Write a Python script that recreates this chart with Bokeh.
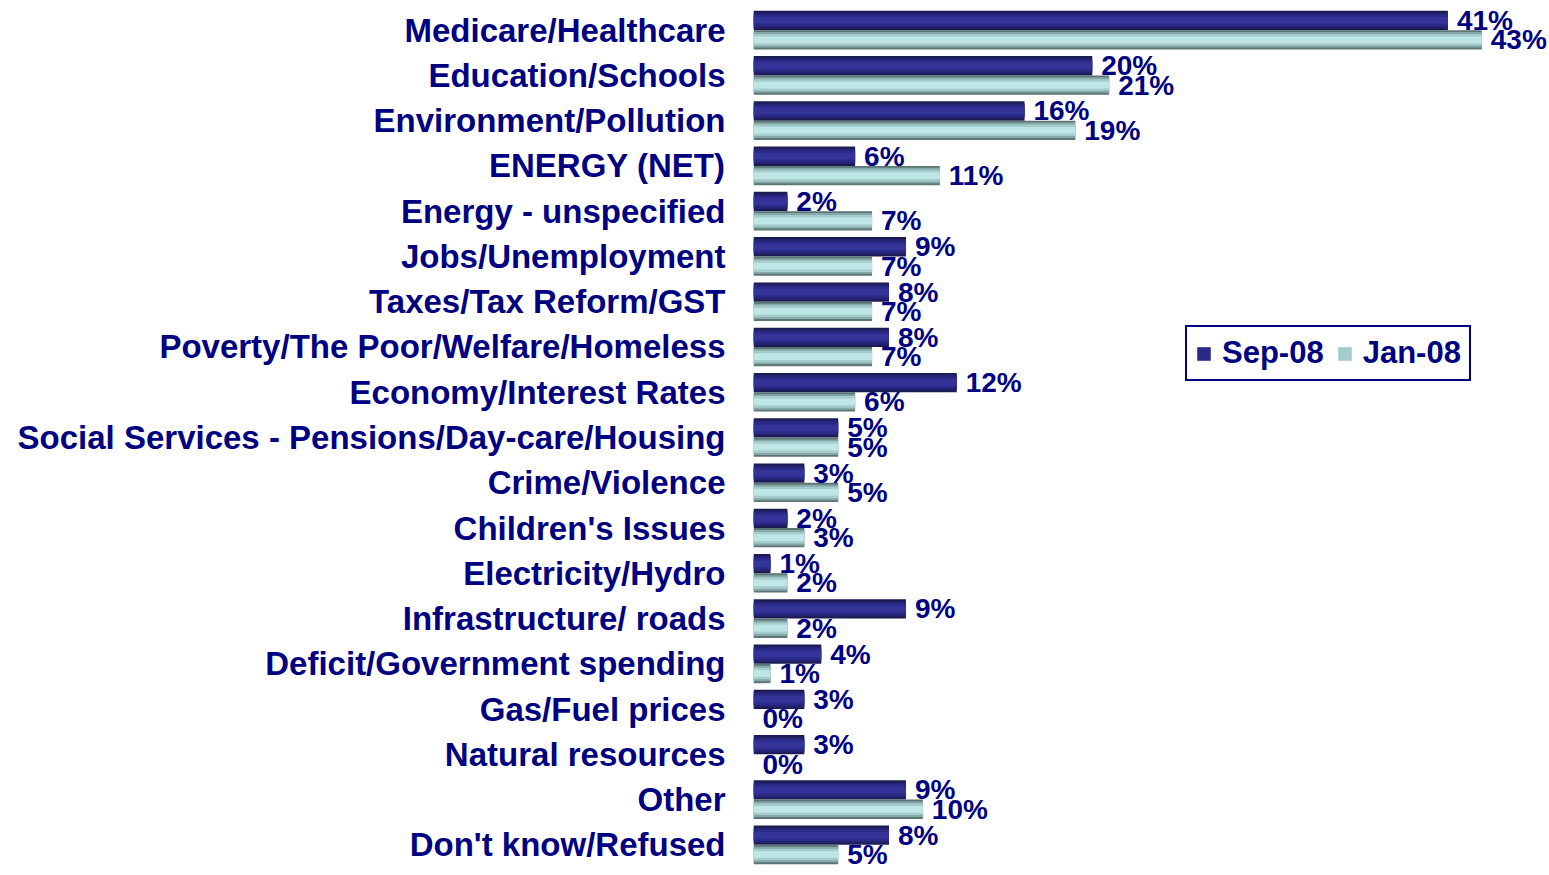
from bokeh.plotting import figure
from bokeh.models import ColumnDataSource, FactorRange, Range1d, LabelSet, Legend, LegendItem
from bokeh.transform import dodge
from bokeh.core.properties import value
from bokeh.embed import file_html
from bokeh.resources import INLINE

categories = ["Medicare/Healthcare", "Education/Schools", "Environment/Pollution", "ENERGY (NET)",
              "Energy - unspecified", "Jobs/Unemployment", "Taxes/Tax Reform/GST",
              "Poverty/The Poor/Welfare/Homeless", "Economy/Interest Rates",
              "Social Services - Pensions/Day-care/Housing", "Crime/Violence", "Children's Issues",
              "Electricity/Hydro", "Infrastructure/ roads", "Deficit/Government spending",
              "Gas/Fuel prices", "Natural resources", "Other", "Don't know/Refused"]
sep08 = [41, 20, 16, 6, 2, 9, 8, 8, 12, 5, 3, 2, 1, 9, 4, 3, 3, 9, 8]
jan08 = [43, 21, 19, 11, 7, 7, 7, 7, 6, 5, 5, 3, 2, 2, 1, 0, 0, 10, 5]
series_names = ["Sep-08", "Jan-08"]

NAVY = "#000080"
FONT = "Liberation Sans"

src = ColumnDataSource(dict(
    cat=categories,
    sep=sep08,
    jan=jan08,
    sep_lbl=[f"{v}%" for v in sep08],
    jan_lbl=[f"{v}%" for v in jan08],
))

p = figure(
    y_range=FactorRange(*list(reversed(categories))),
    x_range=Range1d(0, 47.0),
    frame_width=796, frame_height=860,
    min_border_left=753, min_border_right=0, min_border_top=7, min_border_bottom=8,
    output_backend="svg", toolbar_location=None,
)
p.outline_line_color = None
p.xgrid.visible = False
p.ygrid.visible = False
p.xaxis.visible = False

ax = p.yaxis[0]
ax.axis_line_color = None
ax.major_tick_line_color = None
ax.minor_tick_line_color = None
ax.major_label_standoff = 22
ax.major_label_text_font = FONT
ax.major_label_text_font_style = "bold"
ax.major_label_text_font_size = "33px"
ax.major_label_text_color = NAVY

off = 0.2135
h = 0.427
sep_layers = [(1.0, "#1b1b52"), (0.8, "#232371"), (0.6, "#2b2b87"), (0.35, "#333399")]
jan_layers = [(1.0, "#5c7676"), (0.8, "#86a8a8"), (0.6, "#a4cccc"), (0.35, "#bfe6e6")]

sep_main = None
for frac, col in sep_layers:
    r = p.hbar(y=dodge("cat", off, range=p.y_range), right="sep", left=0, height=h * frac,
               source=src, fill_color=col, line_color=None)
    if frac == 0.6:
        sep_main = r
jan_main = None
for frac, col in jan_layers:
    r = p.hbar(y=dodge("cat", -off, range=p.y_range), right="jan", left=0, height=h * frac,
               source=src, fill_color=col, line_color=None)
    if frac == 0.6:
        jan_main = r

for col, lbl, d in [("sep", "sep_lbl", off), ("jan", "jan_lbl", -off)]:
    ls = LabelSet(x=col, y=dodge("cat", d, range=p.y_range), text=lbl, source=src,
                  x_offset=9, text_baseline="middle", text_align="left",
                  text_font=value(FONT), text_font_style="bold", text_font_size="28px",
                  text_color=NAVY)
    p.add_layout(ls)

legend = Legend(
    items=[LegendItem(label=series_names[0], renderers=[sep_main]),
           LegendItem(label=series_names[1], renderers=[jan_main])],
    orientation="horizontal", location=(432, 486),
    glyph_width=17, glyph_height=17, label_standoff=10, spacing=12, padding=8, margin=0,
    label_text_font=FONT, label_text_font_style="bold", label_text_font_size="31px",
    label_text_color=NAVY, border_line_color=NAVY, border_line_width=2, border_line_alpha=1.0,
    background_fill_color="white", background_fill_alpha=1.0,
)
p.add_layout(legend, "center")

open("out.html", "w").write(file_html(p, INLINE))
